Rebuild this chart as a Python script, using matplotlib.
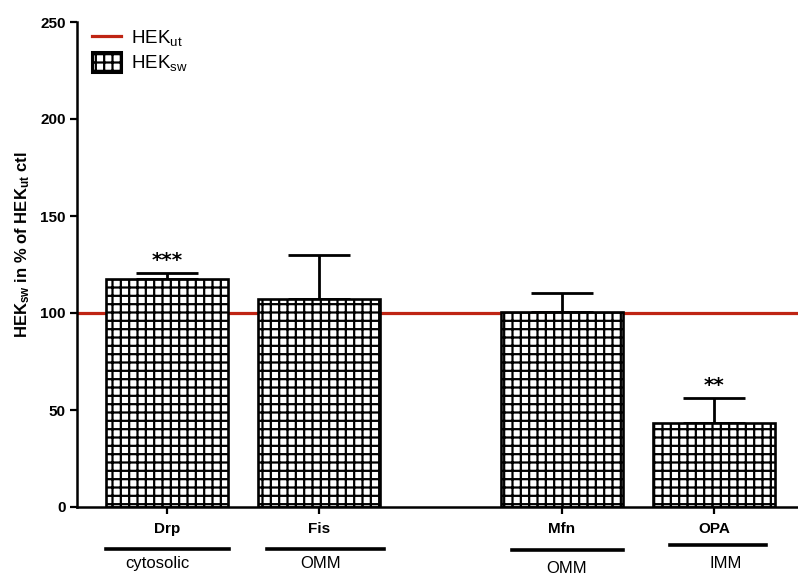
import matplotlib
matplotlib.use("Agg")
import matplotlib.pyplot as plt
import matplotlib.transforms as mtransforms
from matplotlib.patches import Patch
from matplotlib.lines import Line2D

plt.rcParams['font.family'] = ['Liberation Sans', 'DejaVu Sans']
plt.rcParams['hatch.linewidth'] = 1.6
plt.rcParams['mathtext.fontset'] = 'custom'
plt.rcParams['mathtext.rm'] = 'Liberation Sans'
plt.rcParams['mathtext.bf'] = 'Liberation Sans:bold'

# Data
proteins = ["Drp", "Fis", "Mfn", "OPA"]
hek_sw = [117.5, 107.2, 100.5, 43.3]
hek_sw_err = [3.1, 22.7, 9.8, 12.9]
significance = ["***", "", "", "**"]
hek_ut_level = 100
locations = ["cytosolic", "OMM", "OMM", "IMM"]
yticks = [0, 50, 100, 150, 200, 250]

# Layout
xpos = [0, 1, 2.6, 3.6]
bar_width = 0.8
loc_spans = [(-0.40, 0.41), (0.66, 1.43), (2.27, 3.00), (3.31, 3.94)]
loc_line_y = [-0.087, -0.087, -0.089, -0.078]
loc_text_x = [-0.06, 1.01, 2.63, 3.68]
loc_text_y = [-0.116, -0.116, -0.126, -0.116]

fig = plt.figure(figsize=(7.98, 5.77), dpi=100)
ax = fig.add_axes([77 / 798, 1 - 507 / 577, 1 - 77 / 798, 485 / 577])

ax.bar(xpos, hek_sw, width=bar_width, color="white", edgecolor="black",
       linewidth=1.9, hatch="++", zorder=2)
ax.errorbar(xpos, hek_sw, yerr=[[0] * len(hek_sw), hek_sw_err], fmt="none",
            ecolor="black", elinewidth=2.0, capsize=22, capthick=2.0, zorder=1)
ax.axhline(hek_ut_level, color="#bf2413", linewidth=2.3, zorder=1)

for x, v, e, s in zip(xpos, hek_sw, hek_sw_err, significance):
    if s:
        ax.text(x, v + e + 1.5, s, ha="center", va="bottom", fontsize=14.5,
                fontweight="bold", family="DejaVu Sans")

ax.set_xlim(-0.592, 4.153)
ax.set_ylim(0, 250)
ax.set_yticks(yticks)
ax.set_yticklabels([str(t) for t in yticks], fontsize=11, fontweight="bold")
ax.set_xticks(xpos)
ax.set_xticklabels(proteins, fontsize=11, fontweight="bold")
ax.tick_params(axis="both", direction="out", length=5, width=1.6, pad=3)
ax.tick_params(axis="x", pad=6)
for side in ("top", "right"):
    ax.spines[side].set_visible(False)
for side in ("left", "bottom"):
    ax.spines[side].set_linewidth(1.8)

ax.set_ylabel(r"$\mathbf{HEK_{sw}}$ in % of $\mathbf{HEK_{ut}}$ ctl",
              fontsize=12, fontweight="bold")
ax.yaxis.set_label_coords(-0.062, 0.54)

# Sub-compartment annotations below the category labels
trans = mtransforms.blended_transform_factory(ax.transData, ax.transAxes)
for (x0, x1), ly, tx, ty, name in zip(loc_spans, loc_line_y, loc_text_x,
                                      loc_text_y, locations):
    ax.add_line(Line2D([x0, x1], [ly, ly], transform=trans, color="black",
                       linewidth=2.6, clip_on=False))
    ax.text(tx, ty, name, transform=trans, ha="center", va="center",
            fontsize=12, clip_on=False)

handles = [Line2D([], [], color="#bf2413", linewidth=2.3),
           Patch(facecolor="white", edgecolor="black", hatch="++", linewidth=2.2)]
labels = [r"HEK$_{\mathrm{ut}}$", r"HEK$_{\mathrm{sw}}$"]
ax.legend(handles, labels, loc="upper left", bbox_to_anchor=(0.0, 1.02),
          frameon=False, fontsize=13.5, handlelength=1.55, handleheight=1.3,
          handletextpad=0.55, labelspacing=0.15, borderaxespad=0.4)

fig.savefig("out.png", dpi=100)
